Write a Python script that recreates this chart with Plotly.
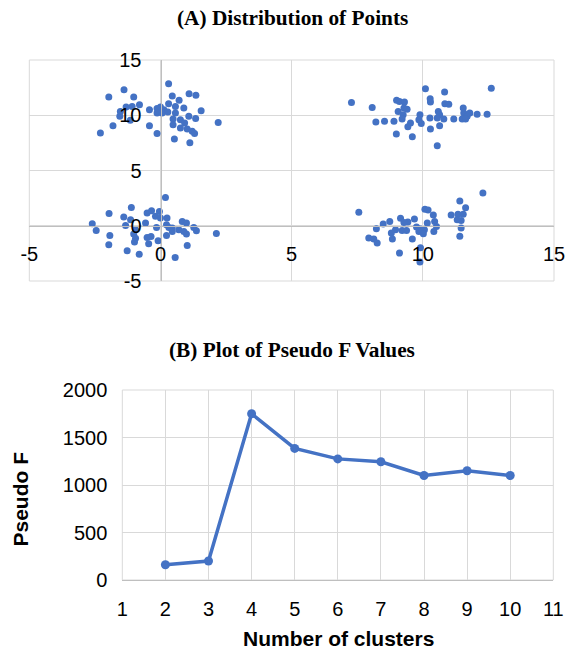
import plotly.graph_objects as go

# ---- Panel A: distribution of points (four groups) ----
tl_x = [0.31, -1.39, -1.97, -1.02, 0.45, 1.09, 1.35, 0.71, -0.80, -1.08, -1.31, 0.31, 0.0, -0.13, -0.42,
        0.13, 0.57, 0.89, -1.53, -1.55, -1.15, -1.81, -2.29, -0.42, -0.13, -0.13, 0.06, 0.28, 0.57, 0.48,
        0.76, 1.08, 1.34, 1.55, 0.92, 0.48, 0.76, 1.02, 1.21, 1.30, 0.53, 1.12, 2.2]
tl_y = [12.85, 12.3, 11.65, 11.65, 11.75, 11.95, 11.8, 11.35, 10.95, 10.8, 10.75, 11.05, 10.75, 10.6, 10.5,
        10.5, 10.8, 10.65, 10.35, 9.9, 9.55, 9.05, 8.4, 9.05, 8.35, 10.2, 10.2, 10.3, 10.2, 9.65,
        9.6, 9.9, 9.7, 10.4, 9.3, 9.15, 8.85, 8.75, 8.55, 8.35, 7.85, 7.5, 9.35]

tr_x = [7.28, 8.07, 8.21, 8.54, 8.9, 8.99, 9.6, 9.0, 9.11, 9.3, 9.06, 9.28, 9.4, 9.25, 9.21,
        9.53, 9.43, 9.89, 9.85, 9.94, 10.1, 10.28, 10.29, 10.27, 10.29, 10.55, 10.59, 10.64, 10.55, 10.64,
        10.8, 10.83, 10.84, 10.99, 11.18, 11.54, 11.56, 11.5, 11.69, 11.79, 12.07, 12.45, 12.61, 11.63]
tr_y = [11.15, 10.7, 9.4, 9.45, 9.45, 8.3, 8.05, 11.35, 11.25, 11.2, 10.35, 10.65, 10.55, 10.05, 9.65,
        9.3, 8.95, 10.05, 9.6, 9.25, 12.4, 11.5, 11.2, 9.75, 8.75, 7.25, 10.35, 10.05, 9.75, 9.05,
        9.65, 12.1, 11.05, 11.0, 9.65, 10.65, 10.2, 9.65, 9.9, 10.2, 10.1, 10.1, 12.45, 9.65]

bl_x = [0.19, -1.11, -1.96, -1.4, -0.51, -0.34, -0.04, -0.19, 0.0, 0.25, -2.6, -2.45, -1.33, -1.14, -0.57,
        -0.15, 0.23, 0.32, 0.45, 0.7, 0.83, 0.99, 1.27, 1.37, 0.99, 0.23, -1.93, -1.02, -0.95, -0.51,
        -0.36, -0.99, -0.45, -0.09, -1.97, -1.27, -0.81, 0.56, 1.02, 2.13, -0.95, 0.45, 0.89]
bl_y = [2.55, 1.65, 1.1, 0.8, 1.15, 1.35, 1.3, 0.85, 0.7, 0.7, 0.18, -0.43, 0.03, 0.55, 0.24,
        -0.15, 0.09, -0.15, -0.21, -0.37, 0.39, 0.24, -0.15, -0.46, -0.75, -0.88, -0.88, -0.75, -1.12, -1.06,
        -0.97, -1.48, -1.62, -1.36, -1.73, -2.26, -2.57, -2.87, -1.79, -0.7, -0.37, -0.52, -0.52]

br_x = [12.29, 11.41, 11.63, 7.56, 10.08, 10.2, 11.08, 11.34, 11.54, 10.4, 9.15, 9.68, 8.74, 8.49, 9.43,
        9.28, 10.17, 10.45, 11.31, 11.46, 8.23, 8.96, 9.76, 9.91, 10.06, 10.52, 11.46, 9.21, 9.38, 8.8,
        10.42, 9.85, 10.02, 7.94, 8.13, 8.26, 8.84, 9.6, 11.41, 9.11, 9.89, 9.91]
br_y = [2.97, 2.23, 1.63, 1.22, 1.49, 1.43, 0.98, 1.04, 1.04, 0.98, 0.69, 0.6, 0.38, 0.15, 0.33,
        0.3, 0.24, 0.38, 0.54, 0.48, -0.27, -0.36, -0.12, -0.3, -0.36, -0.06, -0.21, -0.42, -0.42, -0.66,
        -0.51, -0.51, -0.72, -1.1, -1.19, -1.55, -1.19, -1.19, -0.95, -2.47, -3.28, -1.99]

# tick values / labels of panel A (hyphen minus as in the original)
a_ticks = [-5, 0, 5, 10, 15]
a_ticktext = ["-5", "0", "5", "10", "15"]

# ---- Panel B: pseudo F values ----
clusters = [2, 3, 4, 5, 6, 7, 8, 9, 10]
pseudo_f = [160, 200, 1750, 1385, 1275, 1245, 1100, 1150, 1100]

W, H = 565, 650
BLUE = "#4472C4"
GRID = "#d9d9d9"
AXIS = "#bfbfbf"
TICKFONT = dict(family="Arial, Liberation Sans, sans-serif", size=20, color="#000000")
TITLEFONT = dict(family="Liberation Serif, Times New Roman, serif", size=21.3, color="#000000")
LABELFONT = dict(family="Arial, Liberation Sans, sans-serif", size=21, color="#000000")


def px(x):
    return x / W


def py(y):
    return 1 - y / H


fig = go.Figure()
all_x = tl_x + tr_x + bl_x + br_x
all_y = tl_y + tr_y + bl_y + br_y
fig.add_trace(go.Scatter(x=all_x, y=all_y, mode="markers",
                         marker=dict(color=BLUE, size=7),
                         xaxis="x", yaxis="y", showlegend=False))
fig.add_trace(go.Scatter(x=clusters, y=pseudo_f, mode="lines+markers",
                         line=dict(color=BLUE, width=3.5),
                         marker=dict(color=BLUE, size=9),
                         xaxis="x2", yaxis="y2", showlegend=False))

common = dict(showgrid=True, gridcolor=GRID, gridwidth=1, zeroline=False,
              ticks="", tickfont=TICKFONT, automargin=False, ticklabeloverflow="allow")

fig.update_layout(
    template="none",
    width=W, height=H,
    margin=dict(l=0, r=0, t=0, b=0),
    paper_bgcolor="white", plot_bgcolor="white",
    xaxis=dict(domain=[px(29.3), px(554)], range=[-5, 15],
               tickmode="array", tickvals=a_ticks, ticktext=a_ticktext,
               anchor="free", position=py(226),
               showline=True, linecolor=AXIS, linewidth=1,
               ticklabelstandoff=10, **common),
    yaxis=dict(domain=[py(281), py(60)], range=[-5, 15],
               tickmode="array", tickvals=a_ticks, ticktext=a_ticktext,
               anchor="free", position=px(160.5),
               showline=True, linecolor=AXIS, linewidth=1,
               ticklabelstandoff=15, **common),
    xaxis2=dict(domain=[px(122.3), px(553.3)], range=[1, 11], tick0=1, dtick=1,
                anchor="y2", showline=True, linecolor=AXIS, linewidth=1,
                ticklabelstandoff=11, **common),
    yaxis2=dict(domain=[py(580), py(390)], range=[0, 2000], tick0=0, dtick=500,
                anchor="x2", showline=False,
                ticklabelstandoff=14, **common),
    shapes=[
        dict(type="rect", xref="x domain", yref="y domain", x0=0, x1=1, y0=0, y1=1,
             line=dict(color=GRID, width=1), layer="below"),
        dict(type="rect", xref="x2 domain", yref="y2 domain", x0=0, x1=1, y0=0, y1=1,
             line=dict(color=GRID, width=1), layer="below"),
    ],
    annotations=[
        dict(text="<b>(A) Distribution of Points</b>", x=px(292.5), y=py(18), xref="paper", yref="paper",
             showarrow=False, xanchor="center", yanchor="middle", font=TITLEFONT),
        dict(text="<b>(B) Plot of Pseudo F Values</b>", x=px(292), y=py(350), xref="paper", yref="paper",
             showarrow=False, xanchor="center", yanchor="middle", font=TITLEFONT),
        dict(text="<b>Number of clusters</b>", x=px(338), y=py(638), xref="paper", yref="paper",
             showarrow=False, xanchor="center", yanchor="middle", font=LABELFONT),
        dict(text="<b>Pseudo F</b>", x=px(19.5), y=py(499), xref="paper", yref="paper",
             showarrow=False, xanchor="center", yanchor="middle", textangle=-90, font=LABELFONT),
    ],
)

fig.write_html("out.html", config={"displayModeBar": False},
               post_script="document.body.style.margin='0';")
